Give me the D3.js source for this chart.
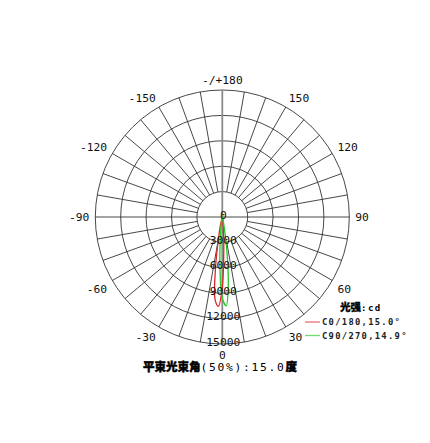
<!DOCTYPE html>
<html>
<head>
<meta charset="utf-8">
<script src="https://cdn.jsdelivr.net/npm/d3@7"></script>
<style>
  body { margin: 0; background: #fff; }
  svg { display: block; }
</style>
</head>
<body>
<div id="chart"></div>
<script>
  'use strict';

  // gamma angles (deg), 0 = straight down, negative = left half
  var gammaAngles = [-90, -60, -45, -30, -25, -20, -17.5, -15, -12.5, -10, -7.5, -5, -2.5,
                     0, 2.5, 5, 7.5, 10, 12.5, 15, 17.5, 20, 25, 30, 45, 60, 90];

  // C0/180 plane, cd
  var c0Values = [0, 0, 0, 10, 20, 50, 100, 320, 1100, 2700, 6200, 9800, 10550,
                  8300, 4000, 1600, 550, 200, 100, 50, 30, 20, 10, 5, 0, 0, 0];

  // C90/270 plane, cd
  var c90Values = [0, 0, 0, 5, 10, 20, 40, 80, 160, 350, 1100, 2900, 6200,
                   9600, 10500, 8100, 4300, 1600, 550, 200, 90, 60, 20, 10, 0, 0, 0];

  var ringTicks = [0, 3000, 6000, 9000, 12000, 15000];
  var angleTicks = [180, 150, 120, 90, 60, 30, 0, -30, -60, -90, -120, -150];
  var angleLabels = ["-/+180", "150", "120", "90", "60", "30", "0", "-30", "-60", "-90", "-120", "-150"];

  var seriesNames = ["C0/180,15.0\u00b0", "C90/270,14.9\u00b0"];
  var seriesColors = ["#e02424", "#26c826"];

  var width = 430,
      height = 443,
      cx = 222.3,
      cy = 217,
      outerR = 127,
      labelR = 133,
      mono = "'DejaVu Sans Mono', monospace",
      cjk = "'Noto Sans CJK SC', sans-serif";

  var r = d3.scaleLinear()
            .domain([0, 15000])
            .range([0, outerR]);

  // gamma in degrees -> d3 radial angle (clockwise from up)
  var toAngle = function (g) { return Math.PI - g * Math.PI / 180; };

  var svg = d3.select("#chart")
              .append("svg")
              .attr("width", width)
              .attr("height", height);

  var g = svg.append("g")
             .attr("transform", "translate(" + cx + "," + cy + ")");

  // rings
  g.selectAll("circle.ring")
   .data(ringTicks.filter(function (d) { return d > 0; }))
   .enter().append("circle")
   .attr("class", "ring")
   .attr("r", function (d) { return r(d); })
   .attr("fill", "none")
   .attr("stroke", "#333")
   .attr("stroke-width", 0.9);

  // spokes every 10 deg, outside the first ring
  var spokes = d3.range(0, 360, 10).filter(function (d) { return d % 90 !== 0; });
  g.selectAll("line.spoke")
   .data(spokes)
   .enter().append("line")
   .attr("class", "spoke")
   .attr("x1", function (d) { return r(3000) * Math.sin(toAngle(d)); })
   .attr("y1", function (d) { return -r(3000) * Math.cos(toAngle(d)); })
   .attr("x2", function (d) { return r(15000) * Math.sin(toAngle(d)); })
   .attr("y2", function (d) { return -r(15000) * Math.cos(toAngle(d)); })
   .attr("stroke", "#333")
   .attr("stroke-width", 0.9);

  // horizontal axis through centre
  g.append("line")
   .attr("x1", -r(15000)).attr("x2", r(15000))
   .attr("y1", 0).attr("y2", 0)
   .attr("stroke", "#333")
   .attr("stroke-width", 0.9);

  // vertical axis, grey
  g.append("line")
   .attr("x1", 0).attr("x2", 0)
   .attr("y1", -r(15000)).attr("y2", r(15000))
   .attr("stroke", "#8a8a8a")
   .attr("stroke-width", 1.8);

  // intensity curves
  var line = d3.lineRadial()
               .angle(function (d) { return toAngle(d.g); })
               .radius(function (d) { return r(d.v); })
               .curve(d3.curveCatmullRomClosed.alpha(0.5));

  [c0Values, c90Values].forEach(function (vals, i) {
    var pts = gammaAngles.map(function (a, j) { return { g: a, v: vals[j] }; });
    g.append("path")
     .attr("d", line(pts))
     .attr("fill", "none")
     .attr("stroke", seriesColors[i])
     .attr("stroke-width", 1.3);
  });

  // ring labels
  g.selectAll("text.ringLabel")
   .data(ringTicks)
   .enter().append("text")
   .attr("class", "ringLabel")
   .attr("x", 1)
   .attr("y", function (d) { return r(d) + 1.5; })
   .attr("text-anchor", "middle")
   .attr("font-family", mono)
   .attr("font-size", "11.3px")
   .attr("fill", "#111")
   .text(function (d) { return d; });

  // angle labels: the corner nearest the centre sits on a circle just outside the grid
  g.selectAll("text.angleLabel")
   .data(angleTicks)
   .enter().append("text")
   .attr("class", "angleLabel")
   .attr("font-family", mono)
   .attr("font-size", "11.3px")
   .attr("fill", "#111")
   .text(function (d, i) { return angleLabels[i]; })
   .each(function (d) {
     var a = toAngle(d),
         ux = Math.sin(a),
         uy = -Math.cos(a),
         anchor = ux > 0.01 ? "start" : (ux < -0.01 ? "end" : "middle"),
         dy = uy < -0.01 ? 0 : (uy > 0.01 ? 9 : 4);
     d3.select(this)
       .attr("text-anchor", anchor)
       .attr("x", labelR * ux)
       .attr("y", labelR * uy + dy);
   });

  // title
  var title = svg.append("text")
                 .attr("x", 143)
                 .attr("y", 371)
                 .attr("fill", "#000");
  title.append("tspan")
       .attr("font-family", cjk)
       .attr("font-weight", "900")
       .attr("font-size", "11.5px")
       .attr("stroke", "#000")
       .attr("stroke-width", 0.45)
       .text("平束光束角");
  title.append("tspan")
       .attr("font-family", mono)
       .attr("font-size", "11.3px")
       .attr("letter-spacing", "1.7px")
       .text("(50%):15.0");
  title.append("tspan")
       .attr("font-family", cjk)
       .attr("font-weight", "900")
       .attr("font-size", "11.5px")
       .attr("stroke", "#000")
       .attr("stroke-width", 0.45)
       .text("度");

  // legend
  var legend = svg.append("g")
                  .attr("transform", "translate(305,0)");

  var unit = legend.append("text")
                   .attr("x", 35)
                   .attr("y", 311)
                   .attr("fill", "#000")
                   .attr("font-weight", "bold");
  unit.append("tspan")
      .attr("font-family", cjk)
      .attr("font-weight", "900")
      .attr("font-size", "10.5px")
      .attr("stroke", "#000")
      .attr("stroke-width", 0.3)
      .text("光强");
  unit.append("tspan")
      .attr("font-family", mono)
      .attr("font-size", "9px")
      .attr("letter-spacing", "1.5px")
      .text(":cd");

  var items = legend.selectAll("g.item")
                    .data(seriesNames)
                    .enter().append("g")
                    .attr("class", "item")
                    .attr("transform", function (d, i) { return "translate(0," + (322 + i * 13.5) + ")"; });

  items.append("line")
       .attr("x1", 0).attr("x2", 15)
       .attr("y1", 0).attr("y2", 0)
       .attr("stroke", function (d, i) { return seriesColors[i]; })
       .attr("stroke-opacity", 0.65)
       .attr("stroke-width", 1.3);

  items.append("text")
       .attr("x", 17)
       .attr("y", 3)
       .attr("font-family", mono)
       .attr("font-size", "8.8px")
       .attr("font-weight", "bold")
       .attr("letter-spacing", "1.3px")
       .attr("fill", "#222")
       .text(function (d) { return d; });
</script>
</body>
</html>
